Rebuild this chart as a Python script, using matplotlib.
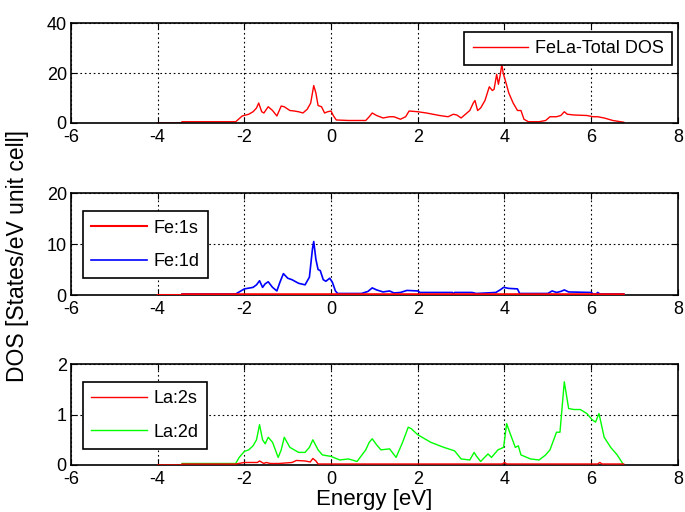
import numpy as np
import matplotlib.pyplot as plt

plt.rcParams['font.family'] = ['Liberation Sans', 'DejaVu Sans']
plt.rcParams['axes.unicode_minus'] = False

# Total DOS (FeLa)
e_total = [-4.0, -3.45, -3.44, -2.2, -2.05, -1.9, -1.8, -1.72, -1.67, -1.6, -1.55, -1.45, -1.35, -1.25,
           -1.15, -1.08, -0.95, -0.85, -0.75, -0.65, -0.55, -0.47, -0.4, -0.35, -0.3, -0.22, -0.15, -0.08, 0.0,
           0.05, 0.12, 0.4, 0.8, 0.88, 0.95, 1.05, 1.2, 1.35, 1.45, 1.6, 1.72, 1.8, 2.0, 2.2, 2.5, 2.7,
           2.82, 2.9, 3.0, 3.1, 3.2, 3.28, 3.32, 3.38, 3.45, 3.55, 3.65, 3.72, 3.76, 3.82, 3.86, 3.9,
           3.94, 3.97, 4.02, 4.1, 4.2, 4.3, 4.38, 4.45, 4.55, 4.8, 4.95, 5.05, 5.2, 5.3, 5.38, 5.45,
           5.6, 5.9, 6.05, 6.15, 6.3, 6.5, 6.75]
dos_total = [0.0, 0.0, 0.5, 0.5, 2.8, 3.5, 4.5, 6.0, 8.0, 4.5, 4.0, 6.5, 5.0, 2.8,
             6.8, 6.5, 5.0, 4.8, 4.5, 4.0, 5.5, 8.0, 15.0, 12.0, 7.0, 6.5, 4.0, 4.5, 4.8,
             3.0, 1.2, 1.0, 1.0, 2.5, 4.0, 3.0, 2.0, 2.5, 2.5, 1.5, 2.5, 4.8, 4.5, 4.0, 3.0, 2.5,
             3.5, 3.2, 2.0, 3.5, 5.0, 8.0, 9.0, 5.0, 6.0, 9.0, 14.5, 13.0, 13.5, 19.5, 15.5, 19.0,
             23.5, 20.0, 17.0, 12.0, 8.0, 5.0, 5.0, 1.5, 0.5, 0.5, 1.0, 2.5, 2.5, 3.0, 4.5, 3.5,
             3.2, 3.0, 2.5, 2.5, 2.0, 1.0, 0.3]

# Fe:1s and Fe:1d
e_fe_s = [-4.0, -3.45, -3.44, 6.75]
dos_fe_s = [0.0, 0.0, 0.15, 0.15]
e_fe_d = [-4.0, -3.45, -3.44, -2.2, -2.1, -2.0, -1.8, -1.72, -1.65, -1.58, -1.52, -1.45, -1.35, -1.25,
          -1.18, -1.1, -1.0, -0.9, -0.75, -0.6, -0.5, -0.43, -0.4, -0.35, -0.3, -0.25, -0.18, -0.12,
          -0.03, 0.03, 0.1, 0.15, 0.7, 0.85, 0.95, 1.05, 1.2, 1.35, 1.45, 1.6, 1.75, 2.0, 2.05, 2.8,
          2.82, 2.85, 3.25, 3.3, 3.35, 3.8, 3.9, 3.98, 4.1, 4.3, 4.35, 5.0, 5.1, 5.2, 5.3, 5.38,
          5.48, 6.0, 6.05, 6.12, 6.15, 6.2, 6.75]
dos_fe_d = [0.0, 0.0, 0.2, 0.2, 0.7, 1.2, 1.5, 2.0, 2.8, 1.5, 2.2, 2.6, 1.5, 0.8,
            2.5, 4.2, 3.3, 3.0, 2.3, 2.0, 3.5, 9.0, 10.5, 7.0, 5.0, 4.8, 3.0, 2.7,
            3.3, 2.5, 0.8, 0.3, 0.3, 0.7, 1.4, 1.0, 0.6, 0.8, 0.4, 0.5, 0.9, 0.8, 0.5, 0.5,
            0.2, 0.5, 0.5, 0.4, 0.3, 0.5, 1.0, 1.5, 1.3, 1.2, 0.3, 0.3, 0.8, 0.5, 0.7, 1.0,
            0.6, 0.5, 0.2, 0.2, 0.5, 0.2, 0.2]

# La:2s and La:2d
e_la_s = [-4.0, -3.45, -3.44, -2.2, -2.0, -1.7, -1.65, -1.55, -1.5, -1.4, -1.2, -0.9, -0.8, -0.6,
          -0.48, -0.42, -0.35, -0.3, 3.95, 4.0, 4.05, 6.15, 6.2, 6.25, 6.75]
dos_la_s = [0.0, 0.0, 0.02, 0.02, 0.05, 0.05, 0.08, 0.03, 0.05, 0.03, 0.03, 0.05, 0.09, 0.08,
            0.06, 0.13, 0.08, 0.02, 0.02, 0.05, 0.02, 0.02, 0.05, 0.02, 0.02]
e_la_d = [-4.0, -3.45, -3.44, -2.2, -2.12, -2.0, -1.9, -1.8, -1.72, -1.65, -1.58, -1.52, -1.45, -1.35,
          -1.22, -1.15, -1.08, -0.95, -0.85, -0.75, -0.6, -0.5, -0.42, -0.3, -0.2, 0.0, 0.2, 0.4,
          0.6, 0.8, 0.88, 0.95, 1.05, 1.15, 1.35, 1.5, 1.65, 1.78, 1.85, 2.0, 2.3, 2.6, 2.78, 2.85,
          3.0, 3.2, 3.3, 3.35, 3.45, 3.62, 3.7, 3.85, 3.98, 4.05, 4.12, 4.25, 4.32, 4.38, 4.6,
          4.8, 4.95, 5.05, 5.2, 5.28, 5.38, 5.48, 5.6, 5.75, 5.9, 6.02, 6.1, 6.18, 6.3, 6.45,
          6.6, 6.75]
dos_la_d = [0.0, 0.0, 0.03, 0.03, 0.15, 0.27, 0.3, 0.38, 0.5, 0.8, 0.5, 0.42, 0.55, 0.45,
            0.15, 0.3, 0.55, 0.35, 0.3, 0.25, 0.25, 0.35, 0.5, 0.3, 0.2, 0.17, 0.1, 0.12,
            0.07, 0.3, 0.45, 0.52, 0.4, 0.3, 0.32, 0.15, 0.45, 0.75, 0.72, 0.6, 0.45, 0.35, 0.3, 0.28,
            0.12, 0.1, 0.25, 0.18, 0.07, 0.22, 0.15, 0.3, 0.35, 0.82, 0.65, 0.35, 0.38, 0.2, 0.12,
            0.1, 0.2, 0.3, 0.65, 0.65, 1.65, 1.12, 1.1, 1.1, 1.02, 0.9, 0.85, 1.02, 0.55, 0.35,
            0.2, 0.0]

x_ticks = [-6, -4, -2, 0, 2, 4, 6, 8]

fig = plt.figure(figsize=(6.85, 5.12), dpi=100)
ax1 = fig.add_axes([0.1036, 0.7598, 0.886, 0.195])
ax2 = fig.add_axes([0.1036, 0.4238, 0.886, 0.199])
ax3 = fig.add_axes([0.1036, 0.0918, 0.886, 0.197])

ax1.plot(e_total, dos_total, color='red', lw=1.0, label='FeLa-Total DOS')
ax2.plot(e_fe_s, dos_fe_s, color='red', lw=1.5, label='Fe:1s', zorder=3)
ax2.plot(e_fe_d, dos_fe_d, color='blue', lw=1.2, label='Fe:1d')
ax3.plot(e_la_s, dos_la_s, color='red', lw=1.0, label='La:2s', zorder=3)
ax3.plot(e_la_d, dos_la_d, color='#00ff00', lw=1.0, label='La:2d')

ylims = [(0, 40, [0, 20, 40]), (0, 20, [0, 10, 20]), (0, 2, [0, 1, 2])]
for ax, (lo, hi, yt) in zip([ax1, ax2, ax3], ylims):
    ax.set_xlim(-6, 8)
    ax.set_ylim(lo, hi)
    ax.set_xticks(x_ticks)
    ax.set_yticks(yt)
    ax.grid(True, linestyle=(0, (1.5, 2.5)), color='black', lw=0.8)
    ax.tick_params(direction='in', top=True, right=True, labelsize=13, length=4)
    ax.tick_params(axis='x', pad=4)
    ax.tick_params(axis='y', pad=3)
    for s in ax.spines.values():
        s.set_linewidth(1.2)

leg_kw = dict(fontsize=13, handlelength=3.1, handletextpad=0.35, fancybox=False, framealpha=1,
              edgecolor='black', borderpad=0.45, labelspacing=0.9, borderaxespad=0)
# legend boxes placed in axes fractions to match the reference
l1 = ax1.legend(loc='upper right', bbox_to_anchor=(0.99, 0.91), **leg_kw)
l2 = ax2.legend(loc='upper left', bbox_to_anchor=(0.02, 0.82), **leg_kw)
l3 = ax3.legend(loc='upper left', bbox_to_anchor=(0.02, 0.82), **leg_kw)
for l in (l1, l2, l3):
    l.get_frame().set_linewidth(1.2)

ax3.set_xlabel('Energy [eV]', fontsize=16, labelpad=1)
fig.text(0.026, 0.5, 'DOS [States/eV unit cell]', rotation=90, fontsize=16.5, va='center', ha='center')

fig.savefig('out.png', dpi=100)
